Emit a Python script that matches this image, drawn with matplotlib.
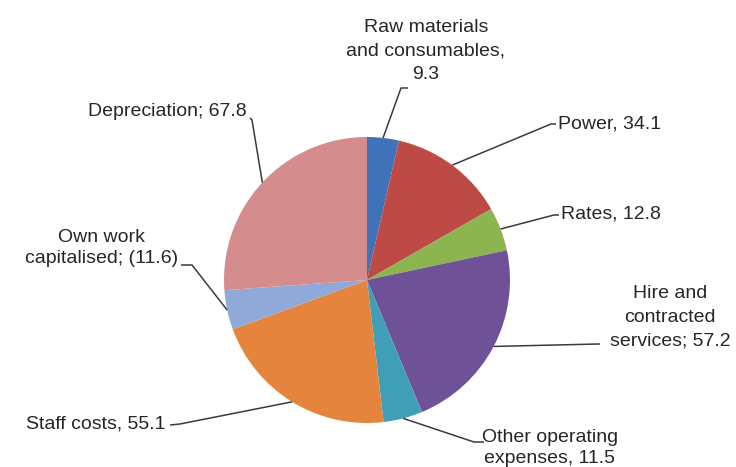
import numpy as np
import matplotlib
matplotlib.use("Agg")
import matplotlib.pyplot as plt

plt.rcParams['font.family'] = ['Liberation Sans', 'DejaVu Sans']

# cost breakdown (own work capitalised is a credit, shown in brackets)
labels = ["Raw materials\nand consumables,\n9.3", "Power, 34.1", "Rates, 12.8",
          "Hire and\ncontracted\nservices; 57.2", "Other operating\nexpenses, 11.5",
          "Staff costs, 55.1", "Own work\ncapitalised; (11.6)", "Depreciation; 67.8"]
values = [9.3, 34.1, 12.8, 57.2, 11.5, 55.1, 11.6, 67.8]
colors = ['#3f72b8', '#bd4a45', '#8db54f', '#6f5197', '#3e9fb6',
          '#e5843c', '#91a9d8', '#d48d8c']

W, H = 736, 467
fig = plt.figure(figsize=(W / 100, H / 100), dpi=100)
ax = fig.add_axes([0, 0, 1, 1])

def px(x, y):
    # pixel position (from top left) -> data coords
    return x, H - y

cx, cy = px(367, 280)
r = 143
wedges, _ = ax.pie(values, colors=colors, startangle=90, counterclock=False,
                   center=(cx, cy), radius=r, wedgeprops=dict(linewidth=0))

# label anchor, alignment, line spacing and leader elbow/end (pixels)
label_pos = [
    ((426, 51), 'center', 1.5, [(401, 88), (408, 88)]),
    ((558, 124), 'left', 1.3, [(551, 124), (556, 124)]),
    ((561, 214), 'left', 1.3, [(554, 215), (559, 215)]),
    ((670, 317), 'center', 1.5, [(598, 344), (600, 344)]),
    ((550, 448), 'center', 1.35, [(474, 442), (484, 442)]),
    ((166, 424), 'right', 1.3, [(180, 424), (170, 425)]),
    ((102, 248), 'center', 1.35, [(192, 265), (181, 265)]),
    ((167, 112), 'center', 1.3, [(252, 120), (250, 118)]),
]

for w, lab, (tp, ha, ls, elbow) in zip(wedges, labels, label_pos):
    mid = np.deg2rad((w.theta1 + w.theta2) / 2)
    x0, y0 = cx + r * np.cos(mid), cy + r * np.sin(mid)
    xs = [x0] + [px(*p)[0] for p in elbow]
    ys = [y0] + [px(*p)[1] for p in elbow]
    ax.plot(xs, ys, color='#3a3a3a', lw=1.1, solid_capstyle='butt')
    ax.text(*px(*tp), lab, ha=ha, va='center', fontsize=14, color='#262626',
            multialignment='center', linespacing=ls)

ax.set_xlim(0, W)
ax.set_ylim(0, H)
ax.set_aspect('equal')
ax.axis('off')

fig.savefig('out.png', dpi=100, facecolor='white')
